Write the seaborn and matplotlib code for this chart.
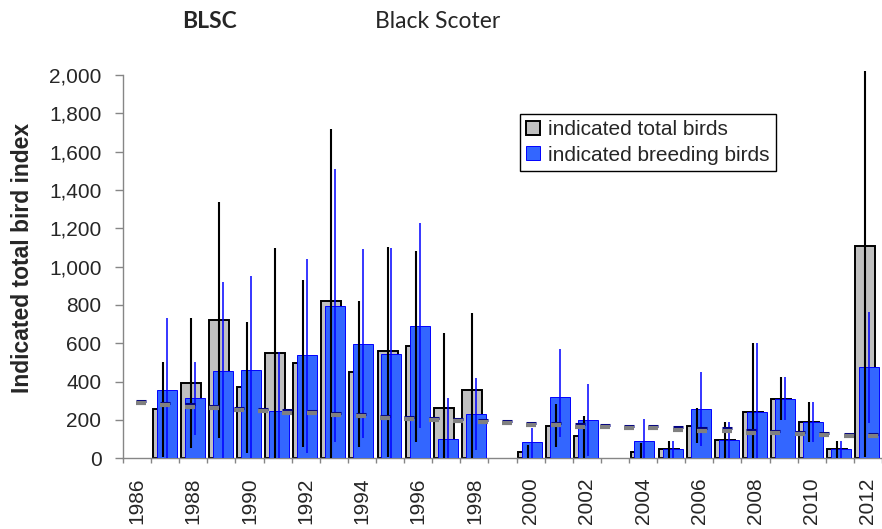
import numpy as np
import pandas as pd
import matplotlib
matplotlib.use("Agg")
import matplotlib.pyplot as plt
import matplotlib.ticker as mticker
from matplotlib.patches import Patch
import seaborn as sns

# ---------------- data ----------------
years = list(range(1986, 2013))
total = [0, 257, 395, 723, 374, 548, 496, 822, 449, 560, 588, 264, 356, 0,
         35, 169, 116, 0, 35, 47, 169, 95, 243, 311, 191, 49, 1109]
total_lo = [0, 8, 52, 104, 29, 0, 57, 0, 61, 8, 87, 0, 0, 0,
            0, 61, 0, 0, 0, 0, 78, 0, 0, 200, 87, 0, 8]
total_hi = [0, 502, 734, 1337, 713, 1099, 930, 1718, 822, 1104, 1083, 655, 760, 0,
            69, 282, 222, 0, 78, 89, 261, 191, 600, 423, 292, 90, 2021]
breeding = [0, 355, 313, 454, 459, 247, 537, 796, 595, 543, 689, 99, 230, 0,
            83, 318, 198, 0, 89, 47, 256, 95, 240, 308, 188, 49, 476]
breed_lo = [0, 0, 122, 0, 0, 0, 26, 87, 104, 0, 156, 0, 43, 0,
            0, 113, 14, 0, 0, 0, 66, 0, 0, 200, 87, 0, 186]
breed_hi = [0, 730, 502, 920, 951, 555, 1042, 1508, 1090, 1099, 1226, 313, 417, 0,
            160, 570, 386, 0, 203, 89, 449, 191, 600, 423, 292, 90, 762]
# trend dashes (secondary category axis, 31 points)
trend_total = [287, 278, 269, 261, 252, 247, 238, 235, 226, 221, 209, 205, 200, 195,
               187, 183, 174, 172, 165, 162, 158, 157, 149, 144, 144, 134, 130, 127,
               122, 116, 116]
trend_breed = [299, 290, 281, 273, 264, 259, 250, 247, 238, 233, 221, 217, 212, 207,
               199, 195, 186, 184, 177, 174, 170, 169, 161, 156, 156, 146, 142, 139,
               134, 128, 128]
labels_legend = ["indicated total birds", "indicated breeding birds"]
yticks = list(range(0, 2001, 200))

# ---------------- styling ----------------
sns.set_theme(style="white")
plt.rcParams['font.family'] = ['Liberation Sans', 'DejaVu Sans']

GRAY = '#C0C0C0'
BLUE = '#3366FF'
BLUE_EDGE = '#0000FF'
AXIS = '#868686'

fig = plt.figure(figsize=(8.82, 5.29), dpi=100)
ax = fig.add_axes([123 / 882, 1 - 458.3 / 529, 759 / 882, (458.3 - 75) / 529])

df = pd.DataFrame({'year': years, 'total': total, 'breeding': breeding,
                   'total_lo': total_lo, 'total_hi': total_hi,
                   'breed_lo': breed_lo, 'breed_hi': breed_hi})
df['x_total'] = df['year'] - 0.09
df['x_breed'] = df['year'] + 0.05

sns.barplot(data=df, x='x_total', y='total', native_scale=True, width=0.71,
            color=GRAY, saturation=1, edgecolor='black', linewidth=1.4,
            errorbar=None, ax=ax, zorder=2)
sns.barplot(data=df, x='x_breed', y='breeding', native_scale=True, width=0.71,
            color=BLUE, saturation=1, edgecolor=BLUE_EDGE, linewidth=0.7,
            errorbar=None, ax=ax, zorder=3)
# zero-height bars show no outline
for p in ax.patches:
    if p.get_height() == 0:
        p.set_linewidth(0)

ax.vlines(df['x_total'], df['total_lo'], df['total_hi'], color='black',
          lw=1.5, zorder=4, clip_on=False)
ax.vlines(df['x_breed'], df['breed_lo'], df['breed_hi'], color=BLUE_EDGE,
          lw=1.1, zorder=5, clip_on=False)

ax.set_xlim(1985.5, 2012.5)
ax.set_ylim(0, 2000)
ax.set_xlabel('')
ax.set_ylabel('')

# spines
for s in ['top', 'right']:
    ax.spines[s].set_visible(False)
for s in ['left', 'bottom']:
    ax.spines[s].set_color(AXIS)
    ax.spines[s].set_linewidth(1.0)

# y ticks
ax.set_yticks(yticks)
ax.yaxis.set_major_formatter(mticker.FuncFormatter(lambda v, p: f"{int(v):,}"))
ax.tick_params(axis='y', direction='out', length=6, width=1, color=AXIS,
               pad=9.5, labelsize=15, left=True)

# x ticks: marks at category boundaries, labels every other year at centres
ax.xaxis.set_major_locator(mticker.FixedLocator(np.arange(1985.5, 2013, 1.0)))
ax.xaxis.set_major_formatter(mticker.NullFormatter())
ax.xaxis.set_minor_locator(mticker.FixedLocator(years[::2]))
ax.xaxis.set_minor_formatter(mticker.FixedFormatter([str(y) for y in years[::2]]))
ax.tick_params(axis='x', which='major', direction='out', length=3.6, width=1,
               color=AXIS, bottom=True)
ax.tick_params(axis='x', which='minor', length=0, pad=14, labelsize=15,
               labelrotation=90, bottom=True)

# trend dashes on a secondary category axis
ax2 = ax.twiny()
ax2.set_xlim(-0.74, 30.37)
idx = np.arange(len(trend_total))
ax2.plot(idx, trend_breed, ls='none', marker='_', ms=6.5, mew=2.2, color='#000080')
ax2.plot(idx, trend_total, ls='none', marker='_', ms=6.5, mew=3.0, color='#808080')
ax2.set_xticks([])
for s in ax2.spines.values():
    s.set_visible(False)
ax2.set_ylim(0, 2000)

# legend
handles = [Patch(facecolor=GRAY, edgecolor='black', lw=1.4),
           Patch(facecolor=BLUE, edgecolor=BLUE_EDGE, lw=0.7)]
leg = fig.legend(handles, labels_legend, loc='upper left',
                 bbox_to_anchor=(520 / 882, 1 - 114 / 529),
                 bbox_transform=fig.transFigure, frameon=True, fancybox=False,
                 edgecolor='black', framealpha=1, fontsize=15,
                 handlelength=0.65, handleheight=0.65, handletextpad=0.4,
                 borderpad=0.3, labelspacing=0.3, borderaxespad=0)
leg.get_frame().set_linewidth(1.0)

# titles and y label
fig.text(209 / 882, 1 - 22 / 529, 'BLSC', fontweight='bold', family=['Lato', 'DejaVu Sans'],
         fontsize=16.5, ha='center', va='center')
fig.text(438 / 882, 1 - 22 / 529, 'Black Scoter', family=['Lato', 'DejaVu Sans'],
         fontsize=16.5, ha='center', va='center')
fig.text(22.7 / 882, 1 - 258 / 529, 'Indicated total bird index', rotation=90,
         fontweight='bold', fontsize=16.5, ha='center', va='center')

fig.savefig('out.png', dpi=100)
